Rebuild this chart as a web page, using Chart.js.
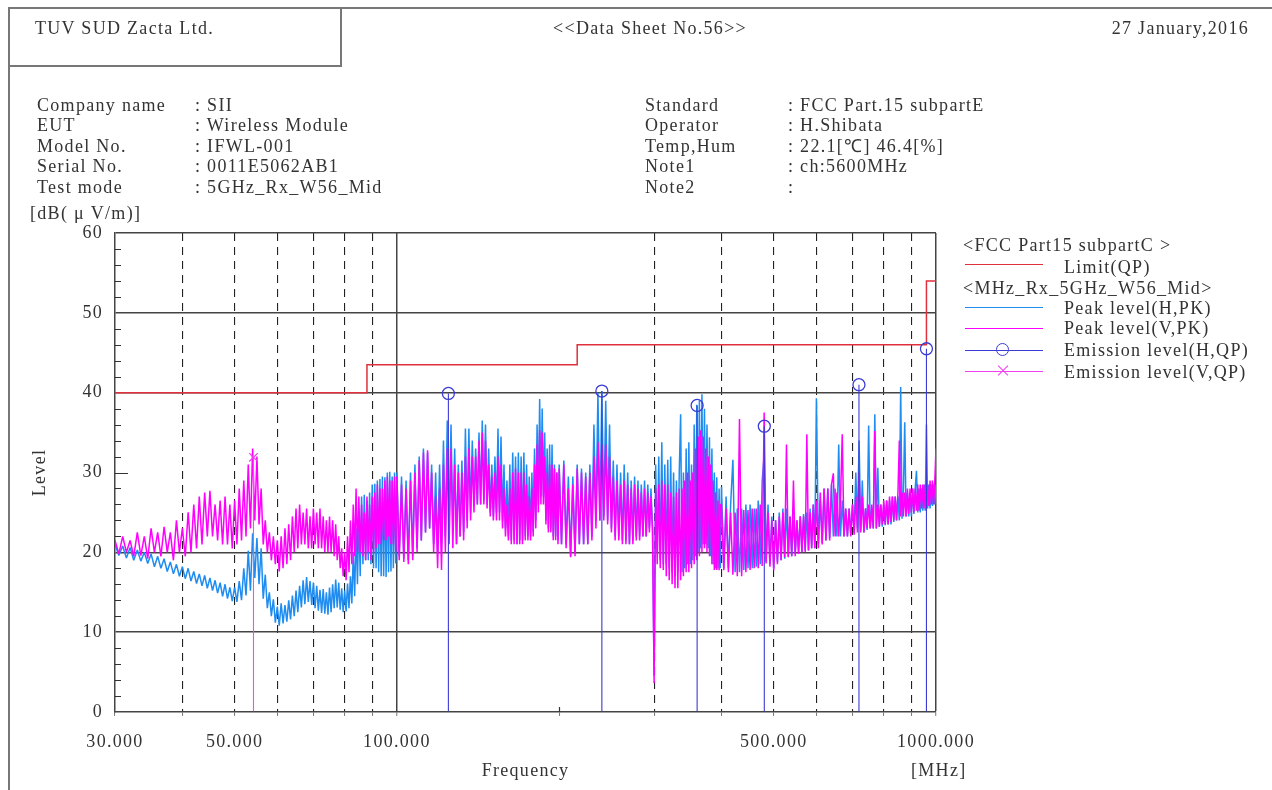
<!DOCTYPE html>
<html>
<head>
<meta charset="utf-8">
<title>Data Sheet No.56</title>
<script src="https://cdn.jsdelivr.net/npm/chart.js@4.4.1/dist/chart.umd.min.js"></script>
<style>
  body { margin: 0; background: #fff; }
  #page {
    position: relative; width: 1272px; height: 790px; overflow: hidden;
    font-family: 'Liberation Serif', 'Times New Roman', serif; font-size: 18px;
    color: #333; letter-spacing: 1.3px;
  }
  #page canvas { position: absolute; left: 0; top: 0; }
  .t { position: absolute; line-height: 20px; white-space: nowrap; }
  .rule { position: absolute; background: #777; }
  .key { position: absolute; left: 965px; width: 78px; height: 0; border-top: 1.5px solid; }
  .ring { position: absolute; width: 11px; height: 11px; border: 1.3px solid #3b3bd6; border-radius: 50%; }
  .cross { position: absolute; width: 14px; height: 0; border-top: 1.3px solid #f040f0; }
</style>
</head>
<body>
<div id="page">
  <canvas id="chart" width="1272" height="790"></canvas>

  <!-- sheet frame -->
  <div class="rule" style="left:8px; top:7px; width:1264px; height:2px"></div>
  <div class="rule" style="left:8px; top:7px; width:2px; height:783px"></div>
  <div class="rule" style="left:340px; top:7px; width:2px; height:60px"></div>
  <div class="rule" style="left:8px; top:65px; width:334px; height:2px"></div>

  <div class="t" style="left:35px; top:18px">TUV SUD Zacta Ltd.</div>
  <div class="t" style="left:553px; top:18px">&lt;&lt;Data Sheet No.56&gt;&gt;</div>
  <div class="t" style="right:23px; top:18px">27 January,2016</div>

  <!-- test conditions -->
  <div class="t" style="left:37px; top:95px">Company name</div>
  <div class="t" style="left:37px; top:115px">EUT</div>
  <div class="t" style="left:37px; top:136px">Model No.</div>
  <div class="t" style="left:37px; top:156px">Serial No.</div>
  <div class="t" style="left:37px; top:177px">Test mode</div>
  <div class="t" style="left:195px; top:95px">: SII</div>
  <div class="t" style="left:195px; top:115px">: Wireless Module</div>
  <div class="t" style="left:195px; top:136px">: IFWL-001</div>
  <div class="t" style="left:195px; top:156px">: 0011E5062AB1</div>
  <div class="t" style="left:195px; top:177px">: 5GHz_Rx_W56_Mid</div>

  <div class="t" style="left:645px; top:95px">Standard</div>
  <div class="t" style="left:645px; top:115px">Operator</div>
  <div class="t" style="left:645px; top:136px">Temp,Hum</div>
  <div class="t" style="left:645px; top:156px">Note1</div>
  <div class="t" style="left:645px; top:177px">Note2</div>
  <div class="t" style="left:788px; top:95px">: FCC Part.15 subpartE</div>
  <div class="t" style="left:788px; top:115px">: H.Shibata</div>
  <div class="t" style="left:788px; top:136px">: 22.1[℃] 46.4[%]</div>
  <div class="t" style="left:788px; top:156px">: ch:5600MHz</div>
  <div class="t" style="left:788px; top:177px">:</div>

  <div class="t" style="left:30px; top:203px">[dB( μ V/m)]</div>
  <div class="t" style="left:911px; top:760px">[MHz]</div>

  <!-- legend -->
  <div class="t" style="left:963px; top:235px">&lt;FCC Part15 subpartC &gt;</div>
  <div class="key" style="top:264px; border-color:#e0303c"></div>
  <div class="t" style="left:1064px; top:257px">Limit(QP)</div>
  <div class="t" style="left:963px; top:278px">&lt;MHz_Rx_5GHz_W56_Mid&gt;</div>
  <div class="key" style="top:307px; border-color:#1e8cf0"></div>
  <div class="t" style="left:1064px; top:298px">Peak level(H,PK)</div>
  <div class="key" style="top:328px; border-color:#ff00ff"></div>
  <div class="t" style="left:1064px; top:318px">Peak level(V,PK)</div>
  <div class="key" style="top:350px; border-color:#3b3bd6"></div>
  <div class="ring" style="left:996px; top:343px"></div>
  <div class="t" style="left:1064px; top:340px">Emission level(H,QP)</div>
  <div class="key" style="top:371px; border-color:#f040f0"></div>
  <div class="cross" style="left:996px; top:370px; transform:rotate(45deg)"></div>
  <div class="cross" style="left:996px; top:370px; transform:rotate(-45deg)"></div>
  <div class="t" style="left:1064px; top:362px">Emission level(V,QP)</div>
</div>

<script>
// Sweep frequencies [MHz], shared by both peak traces
const freqMHz = [
  30, 30.5, 31, 31.5, 32, 32.5, 33, 33.5, 34, 34.5, 35, 35.5, 36, 36.5, 37, 37.5, 38, 38.5, 39, 39.5,
  40, 40.5, 41, 41.5, 42, 42.5, 43, 43.5, 44, 44.5, 45, 45.5, 46, 46.5, 47, 47.5, 48, 48.5, 49, 49.5,
  50, 50.5, 51, 51.5, 52, 52.5, 53, 53.5, 54, 54.5,
  55, 55.5, 56, 56.5, 57, 57.5, 58, 58.5, 59, 59.5,
  60, 60.5, 61, 61.5, 62, 62.5, 63, 63.5, 64, 64.5,
  65, 65.5, 66, 66.5, 67, 67.5, 68, 68.5, 69, 69.5,
  70, 70.5, 71, 71.5, 72, 72.5, 73, 73.5, 74, 74.5,
  75, 75.5, 76, 76.5, 77, 77.5, 78, 78.5, 79, 79.5,
  80, 80.5, 81, 81.5, 82, 82.5, 83, 83.5, 84, 84.5,
  85, 85.5, 86, 86.5, 87, 87.5, 88, 88.5, 89, 89.5,
  90, 90.5, 91, 91.5, 92, 92.5, 93, 93.5, 94, 94.5,
  95, 95.5, 96, 96.5, 97, 97.5, 98, 98.5, 99, 99.5,
  100, 101, 102, 103, 104, 105, 106, 107, 108, 109,
  110, 111, 112, 113, 114, 115, 116, 117, 118, 119,
  120, 121, 122, 123, 124, 125, 126, 127, 128, 129,
  130, 131, 132, 133, 134, 135, 136, 137, 138, 139,
  140, 141, 142, 143, 144, 145, 146, 147, 148, 149,
  150, 151, 152, 153, 154, 155, 156, 157, 158, 159,
  160, 161, 162, 163, 164, 165, 166, 167, 168, 169,
  170, 171, 172, 173, 174, 175, 176, 177, 178, 179,
  180, 181, 182, 183, 184, 185, 186, 187, 188, 189,
  190, 191, 192, 193, 194, 195, 196, 197, 198, 199,
  200, 202, 204, 206, 208, 210, 212, 214, 216, 218,
  220, 222, 224, 226, 228, 230, 232, 234, 236, 238,
  240, 242, 244, 246, 248, 250, 252, 254, 256, 258,
  260, 262, 264, 266, 268, 270, 272, 274, 276, 278,
  280, 282, 284, 286, 288, 290, 292, 294, 296, 298,
  300, 302, 304, 306, 308, 310, 312, 314, 316, 318,
  320, 322, 324, 326, 328, 330, 332, 334, 336, 338,
  340, 342, 344, 346, 348, 350, 352, 354, 356, 358,
  360, 362, 364, 366, 368, 370, 372, 374, 376, 378,
  380, 382, 384, 386, 388, 390, 392, 394, 396, 398,
  400, 404, 408, 412, 416, 420, 424, 428, 432, 436,
  440, 444, 448, 452, 456, 460, 464, 468, 472, 476,
  480, 484, 488, 492, 496, 500, 504, 508, 512, 516,
  520, 524, 528, 532, 536, 540, 544, 548, 552, 556,
  560, 564, 568, 572, 576, 580, 584, 588, 592, 596,
  600, 605, 610, 615, 620, 625, 630, 635, 640, 645,
  650, 655, 660, 665, 670, 675, 680, 685, 690, 695,
  700, 705, 710, 715, 720, 725, 730, 735, 740, 745,
  750, 755, 760, 765, 770, 775, 780, 785, 790, 795,
  800, 805, 810, 815, 820, 825, 830, 835, 840, 845,
  850, 855, 860, 865, 870, 875, 880, 885, 890, 895,
  900, 905, 910, 915, 920, 925, 930, 935, 940, 945,
  950, 955, 960, 965, 970, 975, 980, 985, 990, 995,
  1000
];

// Peak level, horizontal [dB(uV/m)]
const peakH = [
  21.0, 19.6, 20.8, 19.3, 20.6, 19.0, 20.3, 18.9, 20.0, 18.6, 19.8, 18.2, 19.5, 18.0, 19.2, 17.6, 18.8, 17.3, 18.5, 17.0,
  18.2, 16.7, 18.0, 16.4, 17.6, 16.1, 17.3, 15.8, 17.1, 15.5, 16.8, 15.2, 16.5, 14.9, 16.2, 14.5, 16.0, 14.2, 15.6, 13.9,
  15.6, 13.8, 16.4, 14.0, 18.0, 14.6, 20.2, 15.2, 22.4, 16.8,
  21.8, 16.0, 20.5, 14.2, 17.2, 13.0, 15.0, 12.0, 14.1, 11.2,
  13.2, 10.8, 13.6, 11.1, 13.4, 11.3, 14.0, 11.6, 14.6, 12.0,
  15.2, 12.5, 15.8, 13.1, 16.5, 13.5, 16.9, 13.8, 16.4, 13.4,
  16.2, 13.0, 15.8, 12.7, 15.3, 12.4, 15.4, 12.3, 15.0, 12.2,
  15.6, 12.5, 16.0, 13.0, 16.6, 13.1, 16.2, 12.8, 15.5, 12.5,
  15.2, 12.6, 16.1, 13.0, 17.0, 13.6, 20.0, 14.5, 23.0, 16.0,
  25.0, 17.0, 27.0, 18.5, 27.2, 19.0, 26.5, 19.0, 27.5, 18.5,
  28.5, 18.0, 28.6, 18.0, 29.0, 17.5, 29.2, 17.0, 29.5, 17.0,
  29.4, 16.9, 30.0, 17.5, 30.1, 17.6, 29.5, 18.0, 30.0, 18.6,
  30.0, 19.5, 29.5, 19.2, 29.0, 19.0, 30.0, 19.5, 31.0, 20.5,
  32.0, 21.5, 33.0, 22.5, 32.5, 23.0, 31.0, 21.0, 30.0, 20.0,
  31.0, 21.0, 34.0, 22.0, 36.5, 23.5, 36.0, 23.0, 33.0, 21.0,
  31.0, 22.0, 31.5, 22.5, 35.5, 24.0, 35.5, 25.0, 34.0, 26.0,
  33.0, 26.0, 35.0, 26.0, 36.5, 26.5, 36.0, 26.0, 33.0, 25.0,
  31.0, 24.5, 32.0, 25.0, 35.5, 25.0, 34.5, 24.0, 31.0, 23.0,
  29.0, 22.0, 31.0, 21.5, 32.5, 21.5, 32.0, 21.0, 32.5, 21.5,
  32.0, 21.5, 32.5, 22.0, 31.0, 22.0, 29.5, 22.0, 30.0, 22.5,
  33.0, 24.0, 36.0, 26.0, 39.2, 27.0, 38.0, 27.0, 35.0, 24.0,
  33.0, 23.0, 33.5, 23.0, 33.5, 22.0, 31.0, 22.0, 30.0, 21.5,
  31.0, 21.0, 31.5, 21.0, 29.5, 19.5, 29.5, 20.0, 31.0, 21.0,
  30.5, 21.0, 30.0, 21.0, 31.0, 22.0, 36.0, 24.0, 40.0, 24.0,
  40.2, 24.5, 39.0, 24.0, 36.0, 23.0, 31.5, 22.0, 31.0, 22.0,
  30.0, 21.5, 31.0, 21.5, 30.0, 21.0, 29.0, 21.5, 29.5, 22.0,
  29.0, 22.0, 28.5, 22.0, 29.0, 22.0, 28.5, 23.0, 28.0, 23.0,
  4.5, 31.0, 20.0, 32.0, 19.0, 33.8, 18.5, 31.0, 18.5, 31.6,
  18.0, 32.0, 17.5, 30.0, 17.0, 29.0, 17.5, 30.0, 37.3, 17.5,
  30.0, 18.0, 33.0, 18.5, 33.8, 18.5, 31.0, 19.0, 36.0, 19.5,
  38.5, 20.0, 39.0, 20.5, 39.8, 21.0, 38.0, 21.0, 36.0, 20.5,
  34.4, 19.5, 33.0, 18.5, 30.0, 18.0, 29.4, 18.0, 28.0, 18.0,
  28.2, 18.0, 27.0, 18.0, 26.0, 31.6, 17.5, 25.5, 17.5, 25.5,
  17.8, 26.0, 18.0, 26.0, 18.0, 25.5, 18.2, 26.5, 18.5, 29.0,
  32.2, 18.8, 26.0, 18.5, 24.5, 18.0, 24.0, 18.8, 25.0, 19.0,
  25.5, 19.2, 25.5, 19.5, 24.5, 19.5, 24.0, 19.8, 24.0, 20.0,
  24.5, 20.0, 24.8, 20.2, 25.0, 20.3, 25.5, 20.5, 26.0, 20.5,
  39.3, 21.0, 26.5, 21.2, 28.0, 21.5, 28.0, 21.8, 28.5, 22.0,
  28.0, 22.0, 33.5, 22.0, 26.5, 22.0, 25.5, 22.0, 25.5, 22.2,
  26.0, 22.5, 30.0, 23.0, 34.0, 22.8, 29.0, 22.5, 25.5, 22.8,
  35.9, 23.0, 25.5, 23.0, 37.3, 23.0, 30.6, 23.2, 26.0, 23.2,
  26.0, 23.4, 26.5, 23.5, 26.5, 23.5, 27.0, 23.8, 27.0, 24.0,
  27.0, 24.0, 40.7, 24.2, 27.5, 36.3, 24.5, 27.5, 24.5, 27.5,
  24.5, 28.0, 24.8, 28.0, 30.2, 25.0, 28.0, 25.0, 28.0, 25.2,
  28.5, 25.2, 36.0, 25.5, 28.5, 25.5, 28.5, 25.8, 28.5, 26.0,
  28.5
];

// Peak level, vertical [dB(uV/m)]
const peakV = [
  21.5, 19.8, 22.0, 20.0, 21.5, 19.5, 22.5, 19.6, 22.0, 19.2, 23.0, 20.0, 22.5, 19.5, 23.2, 20.0, 22.5, 19.0, 24.0, 20.0,
  23.0, 19.5, 25.0, 20.0, 26.0, 20.5, 27.0, 21.0, 27.5, 22.0, 27.7, 22.0, 26.0, 21.5, 26.5, 21.0, 27.0, 21.0, 26.0, 20.5,
  26.5, 21.0, 28.0, 21.5, 29.0, 22.0, 31.0, 23.0, 33.0, 24.0,
  32.0, 23.5, 28.0, 21.0, 24.0, 20.0, 22.5, 19.0, 22.0, 18.5,
  21.5, 17.6, 22.0, 18.0, 23.0, 18.5, 23.5, 19.0, 24.5, 20.0,
  25.5, 20.5, 26.0, 21.0, 25.0, 21.0, 25.5, 20.5, 24.5, 20.5,
  25.5, 21.0, 25.0, 20.5, 25.5, 20.5, 24.5, 20.0, 24.0, 20.0,
  24.5, 20.0, 24.0, 19.5, 23.5, 19.0, 22.0, 18.0, 20.5, 17.0,
  20.0, 16.5, 22.0, 17.5, 24.0, 18.5, 26.0, 19.5, 28.0, 20.0,
  27.0, 20.0, 26.0, 19.5, 25.0, 19.0, 27.0, 20.0, 26.0, 19.0,
  27.0, 20.0, 27.5, 20.5, 28.5, 21.0, 28.0, 21.0, 28.0, 21.5,
  29.0, 21.5, 29.5, 22.0, 29.0, 21.0, 29.0, 21.0, 29.5, 20.0,
  29.5, 19.0, 28.5, 18.8, 28.0, 18.5, 29.0, 19.0, 30.0, 20.0,
  31.5, 21.5, 32.5, 22.5, 32.8, 23.0, 30.0, 20.0, 27.0, 18.0,
  28.0, 17.8, 31.0, 20.0, 33.0, 21.0, 33.0, 20.5, 31.0, 21.0,
  30.0, 22.0, 30.0, 21.5, 32.0, 23.0, 33.0, 24.0, 32.0, 25.0,
  32.0, 26.0, 34.0, 26.0, 35.0, 26.0, 34.0, 25.5, 31.0, 24.5,
  29.5, 24.0, 30.0, 24.0, 32.0, 24.0, 31.0, 23.0, 28.0, 22.0,
  26.0, 21.5, 28.0, 21.0, 30.0, 21.0, 30.5, 21.0, 30.0, 21.0,
  30.0, 21.0, 30.0, 21.5, 28.5, 21.5, 27.0, 21.5, 28.0, 22.0,
  31.0, 23.0, 33.5, 25.0, 35.3, 26.0, 35.0, 26.0, 32.0, 23.5,
  30.0, 22.5, 31.0, 22.5, 31.0, 21.5, 30.5, 21.5, 30.0, 21.0,
  30.5, 21.0, 31.0, 20.5, 28.0, 19.4, 28.5, 19.5, 30.5, 21.0,
  30.0, 21.0, 29.5, 21.0, 30.0, 21.5, 32.0, 23.0, 33.8, 24.0,
  33.5, 24.0, 33.5, 23.5, 32.0, 22.5, 29.5, 21.5, 29.0, 21.5,
  28.5, 21.0, 29.0, 21.0, 28.5, 21.0, 28.0, 21.0, 28.5, 21.5,
  28.0, 21.5, 27.5, 22.0, 28.0, 22.0, 27.5, 22.5, 27.0, 22.5,
  3.6, 28.0, 18.5, 28.5, 18.0, 29.0, 17.8, 28.5, 17.0, 28.5,
  16.5, 27.5, 16.0, 27.0, 15.5, 27.5, 15.5, 28.0, 16.5, 28.0,
  17.0, 29.0, 17.5, 30.0, 17.5, 29.0, 18.0, 30.0, 18.5, 33.0,
  19.0, 34.5, 19.5, 35.3, 20.0, 34.5, 20.5, 33.0, 20.0, 32.0,
  19.5, 31.0, 18.5, 29.0, 17.8, 27.5, 17.8, 26.5, 17.75, 26.0,
  26.0, 17.75, 25.5, 17.5, 25.0, 17.2, 25.0, 17.0, 36.7, 17.0,
  25.3, 17.5, 25.3, 17.8, 25.5, 18.0, 25.5, 18.0, 26.0, 18.3,
  37.5, 18.6, 25.0, 18.2, 24.0, 17.75, 24.0, 18.5, 24.5, 19.0,
  25.0, 19.4, 33.5, 19.4, 24.5, 19.5, 29.0, 19.5, 24.0, 19.8,
  24.5, 20.0, 24.5, 20.0, 34.8, 20.2, 25.0, 20.5, 26.0, 20.5,
  26.5, 20.5, 27.5, 21.0, 28.0, 21.5, 28.0, 21.5, 28.5, 29.9,
  22.0, 27.5, 22.0, 26.5, 34.8, 22.0, 25.5, 22.0, 25.5, 22.0,
  26.0, 22.2, 27.0, 22.5, 30.0, 22.5, 27.0, 22.5, 25.5, 23.0,
  26.0, 23.0, 26.0, 23.0, 35.2, 23.0, 26.0, 23.2, 26.0, 23.5,
  26.5, 23.5, 26.5, 23.5, 27.0, 23.8, 27.0, 24.0, 27.0, 24.0,
  27.5, 34.0, 24.5, 27.5, 24.5, 27.5, 24.5, 28.0, 24.8, 28.0,
  25.0, 28.0, 25.0, 28.0, 25.2, 28.5, 25.2, 28.5, 25.5, 28.5,
  25.5, 28.5, 25.5, 28.5, 25.8, 29.0, 26.0, 29.0, 26.0, 29.0,
  33.0
];

// FCC Part15 QP limit (step changes at each frequency)
const limitFreq = [30, 88, 216, 960, 1000];
const limitLevel = [40, 43.5, 46, 54, 54];

// Quasi-peak emission results
const qpFreqH = [124.6, 240.0, 360.5, 480.3, 719.6, 960.0];
const qpLevelH = [39.9, 40.2, 38.4, 35.8, 41.0, 45.5];
const qpFreqV = [54.2];
const qpLevelV = [31.9];

// Axis ticks and grid
const xGridFreqs = [30, 40, 50, 60, 70, 80, 90, 100, 200, 300, 400, 500, 600, 700, 800, 900, 1000];
const xTickLabels = [30, 50, 100, 500, 1000];
const xSolidLines = [100, 1000];
const xHiddenLines = [30, 200];
const xShortTicks = [200];
const yTickLabels = [0, 10, 20, 30, 40, 50, 60];
const yGridLines = [10, 20, 40, 50, 60];

const toPoints = (xs, ys) => xs.map((x, i) => ({ x: x, y: ys[i] }));
const plotFont = { family: "'Liberation Serif', 'Times New Roman', serif", size: 18 };
const clear = 'rgba(0,0,0,0)';

// small inside tick marks on the level axis, and the short tick at 200 MHz
const frameTicks = {
  id: 'frameTicks',
  beforeDraw(chart) {
    chart.ctx.letterSpacing = '1.3px';
  },
  beforeDatasetsDraw(chart) {
    const { ctx, chartArea, scales } = chart;
    ctx.save();
    ctx.strokeStyle = '#333';
    ctx.lineWidth = 1.2;
    ctx.beginPath();
    scales.y.ticks.forEach(t => {
      if (t.value <= 0 || yGridLines.includes(t.value)) return;
      const py = Math.round(scales.y.getPixelForValue(t.value)) + 0.5;
      const len = yTickLabels.includes(t.value) ? 13 : 6;
      ctx.moveTo(chartArea.left, py);
      ctx.lineTo(chartArea.left + len, py);
    });
    xShortTicks.forEach(v => {
      const px = Math.round(scales.x.getPixelForValue(v)) + 0.5;
      ctx.moveTo(px, chartArea.bottom);
      ctx.lineTo(px, chartArea.bottom - 5);
    });
    ctx.stroke();
    ctx.restore();
  }
};

new Chart(document.getElementById('chart'), {
  type: 'line',
  data: {
    datasets: [
      {
        label: 'Emission level(H,QP)',
        data: toPoints(qpFreqH, qpLevelH),
        showLine: false,
        pointStyle: 'circle',
        pointRadius: 6,
        pointBorderWidth: 1.3,
        pointBorderColor: '#3b3bd6',
        pointBackgroundColor: clear,
        order: 0
      },
      {
        label: 'Emission level(V,QP)',
        data: toPoints(qpFreqV, qpLevelV),
        showLine: false,
        pointStyle: 'crossRot',
        pointRadius: 6,
        pointBorderWidth: 1.3,
        pointBorderColor: '#f040f0',
        order: 0
      },
      {
        type: 'bar',
        label: 'QP H',
        data: toPoints(qpFreqH, qpLevelH),
        backgroundColor: '#3b3bd6',
        barThickness: 1.1,
        inflateAmount: 0,
        grouped: false,
        order: 1
      },
      {
        type: 'bar',
        label: 'QP V',
        data: toPoints(qpFreqV, qpLevelV),
        backgroundColor: '#f050e8',
        barThickness: 1.1,
        inflateAmount: 0,
        grouped: false,
        order: 1
      },
      {
        label: 'Limit(QP)',
        data: toPoints(limitFreq, limitLevel),
        stepped: true,
        borderColor: '#e0303c',
        borderWidth: 1.5,
        pointRadius: 0,
        order: 2
      },
      {
        label: 'Peak level(V,PK)',
        data: toPoints(freqMHz, peakV),
        borderColor: '#ff00ff',
        borderWidth: 1.5,
        borderJoinStyle: 'bevel',
        pointRadius: 0,
        order: 3
      },
      {
        label: 'Peak level(H,PK)',
        data: toPoints(freqMHz, peakH),
        borderColor: '#1e8cf0',
        borderWidth: 1.5,
        borderJoinStyle: 'bevel',
        pointRadius: 0,
        order: 4
      }
    ]
  },
  options: {
    responsive: false,
    animation: false,
    events: [],
    layout: { padding: { left: 0, top: 233, right: 336, bottom: 0 } },
    plugins: {
      legend: { display: false },
      tooltip: { enabled: false }
    },
    scales: {
      x: {
        type: 'logarithmic',
        min: 30,
        max: 1000,
        offset: false,
        afterBuildTicks: s => { s.ticks = xGridFreqs.map(v => ({ value: v })); },
        afterFit: s => { s.height = 78; },
        ticks: {
          autoSkip: false,
          maxRotation: 0,
          padding: 15,
          color: '#333',
          font: plotFont,
          callback: v => xTickLabels.includes(v) ? v.toFixed(3) : ''
        },
        grid: {
          offset: false,
          color: c => {
            const v = c.tick ? c.tick.value : null;
            if (xHiddenLines.includes(v)) return clear;
            return xSolidLines.includes(v) ? '#444' : '#222';
          },
          lineWidth: c => (c.tick && xSolidLines.includes(c.tick.value)) ? 1.5 : 1.1,
          drawTicks: true,
          tickLength: 4,
          tickColor: '#777',
          tickWidth: 1
        },
        border: {
          color: '#444',
          width: 1.5,
          dash: c => (c.tick && !xSolidLines.includes(c.tick.value)) ? [8, 6] : []
        },
        title: {
          display: true,
          text: 'Frequency',
          color: '#333',
          font: plotFont,
          padding: { top: 0, bottom: 8 }
        }
      },
      y: {
        min: 0,
        max: 60,
        afterFit: s => { s.width = 115; },
        ticks: {
          stepSize: 2,
          autoSkip: false,
          padding: 12,
          color: '#333',
          font: plotFont,
          callback: v => yTickLabels.includes(v) ? String(v) : ''
        },
        grid: {
          color: c => (c.tick && yGridLines.includes(c.tick.value)) ? '#444' : clear,
          lineWidth: 1.4,
          drawTicks: false
        },
        border: { color: '#444', width: 1.5 },
        title: {
          display: true,
          text: 'Level',
          color: '#333',
          font: plotFont,
          padding: { top: 29, bottom: 0 }
        }
      }
    }
  },
  plugins: [frameTicks]
});
</script>
</body>
</html>
